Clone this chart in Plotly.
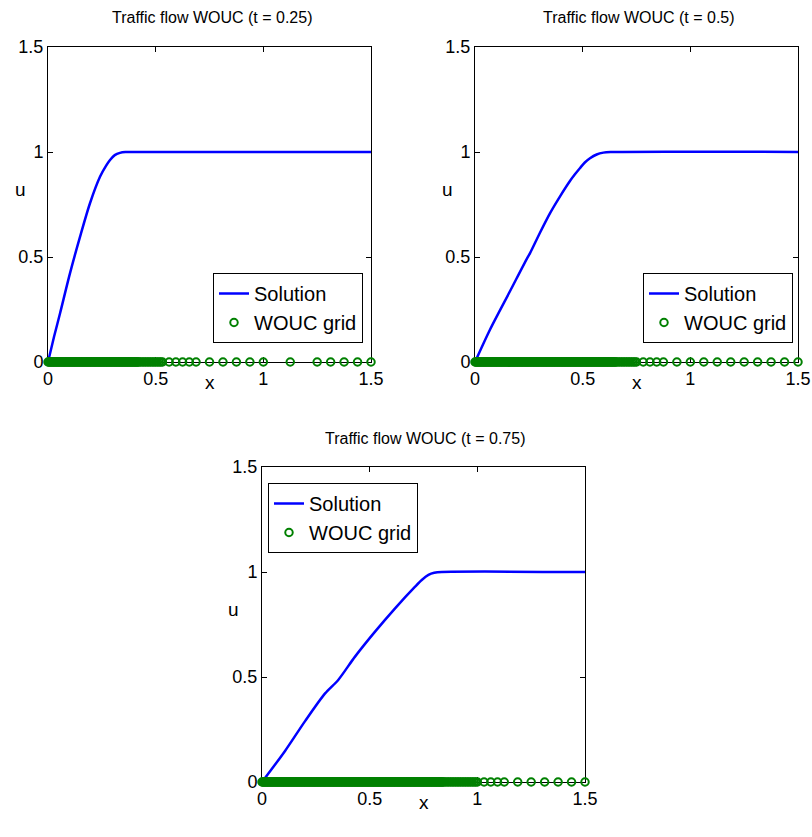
import numpy as np
import plotly.graph_objects as go

W, H = 812, 837

titles = ["Traffic flow WOUC (t = 0.25)", "Traffic flow WOUC (t = 0.5)", "Traffic flow WOUC (t = 0.75)"]

# Solution curves
sol1_x = [0, 0.028, 0.056, 0.102, 0.149, 0.195, 0.242, 0.27, 0.288, 0.31, 0.334, 0.36, 0.381, 1.5]
sol1_u = [0, 0.12, 0.232, 0.422, 0.597, 0.756, 0.883, 0.935, 0.962, 0.985, 0.996, 1.0, 1.0, 1.0]

sol2_x = [0, 0.07, 0.163, 0.24, 0.255, 0.30, 0.348, 0.395, 0.441, 0.465, 0.488, 0.51, 0.534, 0.565, 0.596, 0.63, 1.5]
sol2_u = [0, 0.155, 0.338, 0.49, 0.517, 0.612, 0.708, 0.789, 0.862, 0.895, 0.924, 0.950, 0.970, 0.988, 0.997, 1.0, 1.0]

sol3_x = [0, 0.107, 0.2, 0.293, 0.354, 0.432, 0.525, 0.618, 0.711, 0.742, 0.773, 0.80, 0.835, 1.5]
sol3_u = [0, 0.148, 0.29, 0.422, 0.486, 0.597, 0.716, 0.827, 0.930, 0.962, 0.986, 0.996, 1.0, 1.0]

# WOUC grid: refined regions as (start, stop, spacing) plus individually read coarse nodes
grid1_segments = [(0.0, 0.421875, 1 / 256), (0.421875, 0.53125, 1 / 128)]
grid1_nodes = [0.53125, 0.5625, 0.59375, 0.625, 0.65625, 0.6875, 0.75, 0.8125, 0.875, 0.9375, 1.0,
               1.125, 1.25, 1.3125, 1.375, 1.4375, 1.5]

grid2_segments = [(0.0, 0.65625, 1 / 256), (0.65625, 0.75, 1 / 128)]
grid2_nodes = [0.75, 0.78125, 0.8125, 0.84375, 0.875, 0.9375, 1.0, 1.0625, 1.125, 1.1875, 1.25,
               1.3125, 1.375, 1.4375, 1.5]

grid3_segments = [(0.0, 0.84375, 1 / 256), (0.84375, 1.0, 1 / 128)]
grid3_nodes = [1.0, 1.03125, 1.0625, 1.09375, 1.125, 1.1875, 1.25, 1.3125, 1.375, 1.4375, 1.5]


def build_grid(segments, nodes):
    pts = []
    for a, b, h in segments:
        pts.extend(np.arange(a, b, h).tolist())
    pts.extend(nodes)
    return np.array(pts)


panels = [
    (sol1_x, sol1_u, build_grid(grid1_segments, grid1_nodes)),
    (sol2_x, sol2_u, build_grid(grid2_segments, grid2_nodes)),
    (sol3_x, sol3_u, build_grid(grid3_segments, grid3_nodes)),
]

# axes boxes in pixels (left, right, top, bottom)
boxes = [(48, 371, 47, 362), (475, 798, 47, 362), (262, 585, 467, 782)]
legend_pos = [(213, 273), (643, 273), (268, 483)]

FONT = "Liberation Sans, Arial, sans-serif"
fig = go.Figure()
layout = dict(
    width=W, height=H, margin=dict(l=0, r=0, t=0, b=0, pad=0, autoexpand=False),
    paper_bgcolor="white", plot_bgcolor="white",
    font=dict(family=FONT, size=18, color="black"),
    showlegend=True,
)
annotations = []

for i, ((sx, su, gx), (l, r, t, b), (lx, ly)) in enumerate(zip(panels, boxes, legend_pos)):
    n = "" if i == 0 else str(i + 1)
    leg = "legend" if i == 0 else f"legend{i + 1}"
    fig.add_trace(go.Scatter(
        x=sx, y=su, mode="lines", name="Solution",
        line=dict(color="#0000ff", width=2.5, shape="spline", smoothing=0.8),
        xaxis="x" + n, yaxis="y" + n, legend=leg, cliponaxis=False,
    ))
    fig.add_trace(go.Scatter(
        x=gx, y=np.zeros_like(gx), mode="markers", name="WOUC grid",
        marker=dict(symbol="circle-open", size=7.5, color="#008000", line=dict(width=2, color="#008000")),
        xaxis="x" + n, yaxis="y" + n, legend=leg, cliponaxis=False,
    ))
    axcommon = dict(
        range=[0, 1.5], dtick=0.5, tick0=0, showgrid=False, zeroline=False,
        showline=True, linecolor="black", linewidth=1, mirror="ticks",
        ticks="inside", ticklen=5, tickcolor="black", tickwidth=1,
        tickfont=dict(family=FONT, size=18, color="black"), automargin=False,
        layer="below traces",
    )
    layout["xaxis" + n] = dict(axcommon, domain=[l / W, r / W], anchor="y" + n)
    layout["yaxis" + n] = dict(axcommon, domain=[1 - b / H, 1 - t / H], anchor="x" + n)
    layout[leg] = dict(
        x=lx / W, y=1 - ly / H, xanchor="left", yanchor="top",
        bordercolor="black", borderwidth=1, bgcolor="white",
        font=dict(family=FONT, size=20, color="black"),
    )
    cx = (l + r) / 2
    cy = (t + b) / 2
    annotations.append(dict(text=titles[i], x=(cx + 2) / W, y=1 - (t - 29) / H, xref="paper", yref="paper",
                            showarrow=False, font=dict(family=FONT, size=16, color="black"),
                            xanchor="center", yanchor="middle"))
    annotations.append(dict(text="x", x=cx / W, y=1 - (b + 20) / H, xref="paper", yref="paper",
                            showarrow=False, font=dict(family=FONT, size=19, color="black"),
                            xanchor="center", yanchor="middle"))
    annotations.append(dict(text="u", x=(l - 28) / W, y=1 - (cy - 15) / H, xref="paper", yref="paper",
                            showarrow=False, font=dict(family=FONT, size=19, color="black"),
                            xanchor="center", yanchor="middle"))

layout["annotations"] = annotations
fig.update_layout(**layout)
fig.write_html("out.html")
